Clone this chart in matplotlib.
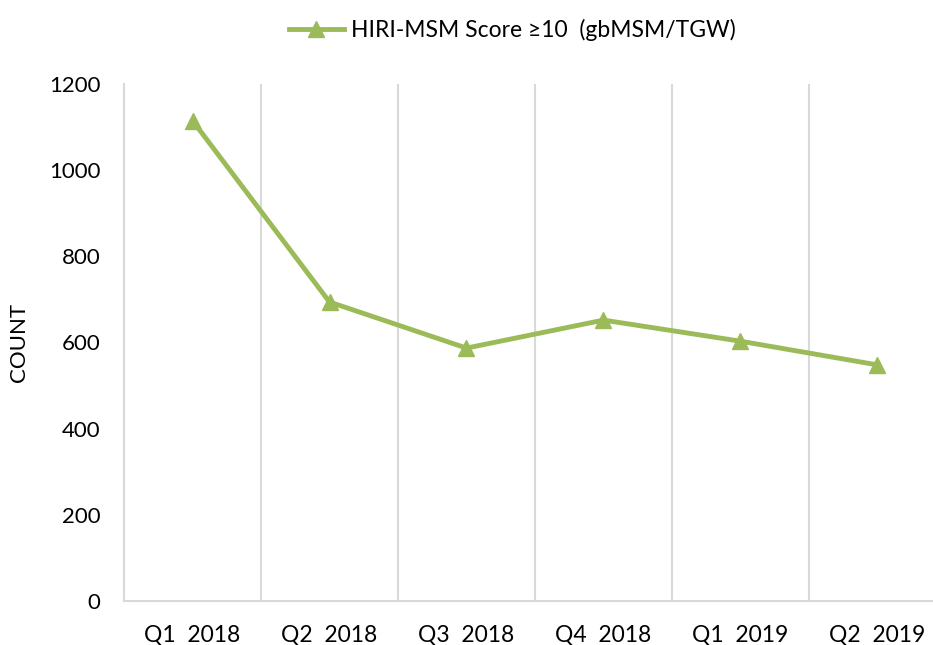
import matplotlib.pyplot as plt
import numpy as np

# Quarterly counts
quarters = ['Q1  2018', 'Q2  2018', 'Q3  2018', 'Q4  2018', 'Q1  2019', 'Q2  2019']
counts = [1115, 694, 587, 652, 603, 548]
y_ticks = [0, 200, 400, 600, 800, 1000, 1200]
series_label = 'HIRI-MSM Score \u226510  (gbMSM/TGW)'

plt.rcParams['font.family'] = ['Lato', 'DejaVu Sans']

fig = plt.figure(figsize=(9.33, 6.45), dpi=100)
W, H = 933, 645
ax = fig.add_axes([124 / W, 1 - 601 / H, (946 - 124) / W, (601 - 84) / H])

x = np.arange(len(quarters))
ax.plot(x, counts, color='#9BBB59', linewidth=3.5, marker='^', markersize=12,
        label=series_label, clip_on=False)

ax.set_xlim(-0.5, len(quarters) - 0.5)
ax.set_ylim(0, 1200)
ax.set_yticks(y_ticks)
ax.set_xticks(x)
ax.set_xticklabels(quarters, fontsize=16.5)
ax.set_xticks(np.arange(len(quarters) + 1) - 0.5, minor=True)
ax.grid(True, which='minor', axis='x', color='#D9D9D9', linewidth=1.5)
ax.tick_params(axis='both', which='both', length=0, colors='black')
ax.tick_params(axis='y', labelsize=16, pad=17)
ax.tick_params(axis='x', pad=17)

for side in ['top', 'right']:
    ax.spines[side].set_visible(False)
for side in ['left', 'bottom']:
    ax.spines[side].set_color('#D9D9D9')
    ax.spines[side].set_linewidth(1.5)

ax.set_ylabel('COUNT', fontsize=16)
ax.yaxis.set_label_coords(-0.115, 0.5)

fig.legend(loc='center', bbox_to_anchor=(512 / W, 1 - 30 / H), frameon=False,
           fontsize=16.5, handlelength=2.4, handletextpad=0.3)

fig.savefig('out.png', dpi=100)
